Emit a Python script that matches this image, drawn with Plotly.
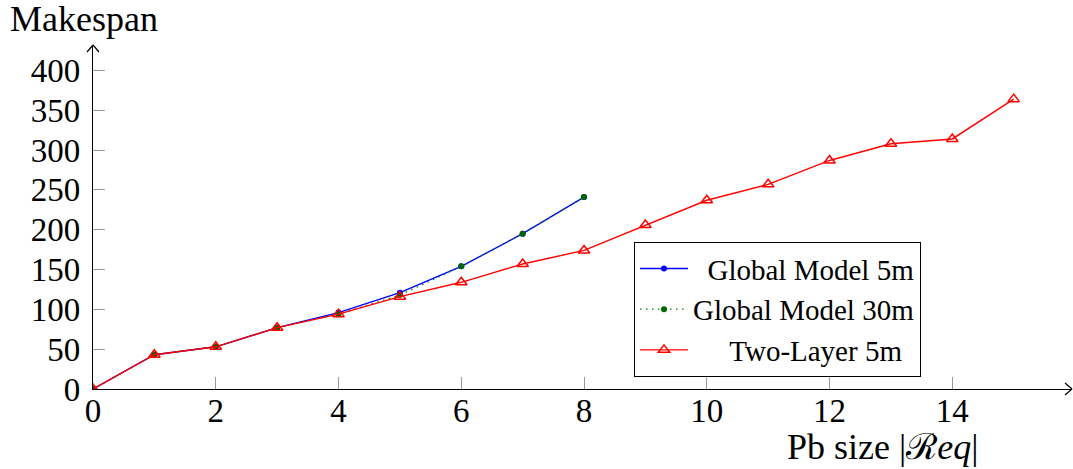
import plotly.graph_objects as go

sizes_global = [0, 1, 2, 3, 4, 5, 6, 7, 8]
global_5m = [0, 43, 53, 77, 96, 121, 154, 195, 241]
global_30m = [0, 43, 53, 77, 94, 118, 154, 195, 241]
sizes_two = list(range(16))
two_layer_5m = [0, 43, 53, 77, 94, 116, 134, 157, 174, 206, 237, 257, 287, 308, 314, 364]

x_ticks = [0, 2, 4, 6, 8, 10, 12, 14]
y_ticks = [0, 50, 100, 150, 200, 250, 300, 350, 400]

FONT = "Liberation Serif"
NB = "\u00a0"

fig = go.Figure()
fig.add_trace(go.Scatter(x=sizes_global, y=global_5m, mode="lines+markers",
                         name=NB * 2 + "Global Model 5m",
                         line=dict(color="#0000ff", width=1.4),
                         marker=dict(color="#0000ff", size=6, symbol="circle")))
fig.add_trace(go.Scatter(x=sizes_global, y=global_30m, mode="lines+markers",
                         name="Global Model 30m",
                         line=dict(color="#007f00", width=1.3, dash="1.5px,4.5px"),
                         marker=dict(color="#006400", size=6, symbol="circle")))
fig.add_trace(go.Scatter(x=sizes_two, y=two_layer_5m, mode="lines+markers",
                         name=NB * 5 + "Two-Layer 5m",
                         line=dict(color="#ff0000", width=1.4),
                         marker=dict(color="#ff0000", size=10, symbol="triangle-up-open",
                                     line=dict(width=1.5))))

fig.update_layout(
    width=1073, height=469,
    margin=dict(l=93, r=1, t=45, b=80, autoexpand=False),
    plot_bgcolor="white", paper_bgcolor="white",
    font=dict(family=FONT, size=33, color="black"),
    showlegend=True,
    legend=dict(x=0.5526, y=0.427, xanchor="left", yanchor="top",
                bordercolor="black", borderwidth=1, bgcolor="white",
                font=dict(family=FONT, size=29, color="black"),
                tracegroupgap=0, itemwidth=48),
)
fig.update_xaxes(range=[0, 15.95], tickvals=x_ticks, ticks="inside", ticklen=12,
                 tickcolor="#999999", tickwidth=1, showgrid=False, zeroline=False,
                 showline=True, linecolor="black", linewidth=1.2, automargin=False,
                 ticklabelstandoff=-8,
                 tickfont=dict(family=FONT, size=33))
fig.update_yaxes(range=[0, 432], tickvals=y_ticks, ticks="inside", ticklen=12,
                 tickcolor="#999999", tickwidth=1, showgrid=False, zeroline=False,
                 showline=True, linecolor="black", linewidth=1.2, automargin=False,
                 ticklabelstandoff=5,
                 tickfont=dict(family=FONT, size=33))

# arrow heads (open chevrons) at ends of axes
line = dict(color="black", width=1.2)
for dy in (6, -6):
    fig.add_shape(type="line", xref="paper", yref="paper", xsizemode="pixel",
                  ysizemode="pixel", xanchor=1, yanchor=0, x0=-7, x1=0, y0=dy, y1=0,
                  line=line)
for dx in (6, -6):
    fig.add_shape(type="line", xref="paper", yref="paper", xsizemode="pixel",
                  ysizemode="pixel", xanchor=0, yanchor=1, x0=dx, x1=0, y0=-7, y1=0,
                  line=line)

fig.add_annotation(text="Makespan", xref="paper", yref="paper", x=-0.087, y=1.0,
                   xanchor="left", yanchor="bottom", yshift=4, showarrow=False,
                   font=dict(family=FONT, size=36))
fig.add_annotation(text="Pb size |ℛ<i>eq</i>|", xref="paper", yref="paper", x=0.806, y=0,
                   xanchor="center", yanchor="top", yshift=-36, showarrow=False,
                   font=dict(family=FONT, size=36))

fig.write_html("out.html", config={"displayModeBar": False},
               post_script="document.body.style.margin='0px';document.body.style.padding='0px';")
